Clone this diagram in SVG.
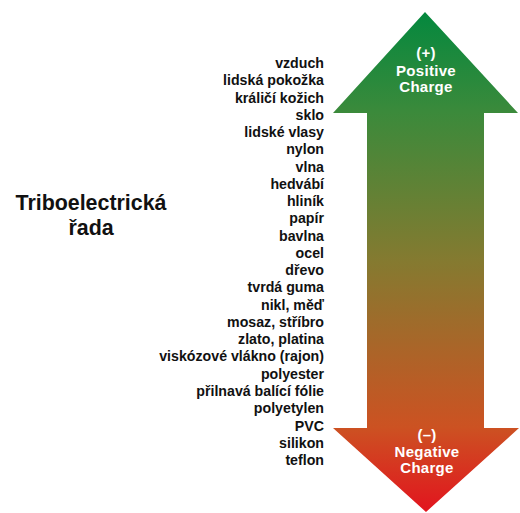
<svg xmlns="http://www.w3.org/2000/svg" width="520" height="513" viewBox="0 0 520 513">
<style>
.it{font-family:"Liberation Sans",Arial,sans-serif;font-weight:bold;font-size:14.2px;fill:#111;text-anchor:end}
.ti{font-family:"Liberation Sans",Arial,sans-serif;font-weight:bold;font-size:21.4px;fill:#111;text-anchor:middle}
.al{font-family:"Liberation Sans",Arial,sans-serif;font-weight:bold;font-size:15px;fill:#fff;text-anchor:middle;letter-spacing:0.3px}
</style>
<defs>
<linearGradient id="g" x1="0" y1="12" x2="0" y2="512" gradientUnits="userSpaceOnUse">
<stop offset="0" stop-color="#04883e"/>
<stop offset="0.2" stop-color="#3b8a3b"/>
<stop offset="0.5" stop-color="#857a30"/>
<stop offset="0.83" stop-color="#cc5222"/>
<stop offset="1" stop-color="#e2141e"/>
</linearGradient>
</defs>
<g id="arrow">
<path d="M425,12 L518,113 L484,113 L484,428 L519,428 L426,512 L333,428 L367,428 L367,113 L333,113 Z" fill="url(#g)"/>
<text class="al" x="426" y="58">(+)</text>
<text class="al" x="426" y="76">Positive</text>
<text class="al" x="426" y="92">Charge</text>
<text class="al" x="427" y="440">(–)</text>
<text class="al" x="427" y="457">Negative</text>
<text class="al" x="427" y="473">Charge</text>
</g>
<g id="title">
<text class="ti" x="91" y="210">Triboelectrická</text>
<text class="ti" x="91" y="235">řada</text>
</g>
<g id="list">
<text class="it" x="324" y="68">vzduch</text>
<text class="it" x="324" y="85.3">lidská pokožka</text>
<text class="it" x="324" y="102.5">králičí kožich</text>
<text class="it" x="324" y="119.8">sklo</text>
<text class="it" x="324" y="137">lidské vlasy</text>
<text class="it" x="324" y="154.3">nylon</text>
<text class="it" x="324" y="171.6">vlna</text>
<text class="it" x="324" y="188.8">hedvábí</text>
<text class="it" x="324" y="206.1">hliník</text>
<text class="it" x="324" y="223.3">papír</text>
<text class="it" x="324" y="240.6">bavlna</text>
<text class="it" x="324" y="257.9">ocel</text>
<text class="it" x="324" y="275.1">dřevo</text>
<text class="it" x="324" y="292.4">tvrdá guma</text>
<text class="it" x="324" y="309.6">nikl, měď</text>
<text class="it" x="324" y="326.9">mosaz, stříbro</text>
<text class="it" x="324" y="344.2">zlato, platina</text>
<text class="it" x="324" y="361.4">viskózové vlákno (rajon)</text>
<text class="it" x="324" y="378.7">polyester</text>
<text class="it" x="324" y="395.9">přilnavá balící fólie</text>
<text class="it" x="324" y="413.2">polyetylen</text>
<text class="it" x="324" y="430.5">PVC</text>
<text class="it" x="324" y="447.7">silikon</text>
<text class="it" x="324" y="465">teflon</text>
</g>
</svg>
